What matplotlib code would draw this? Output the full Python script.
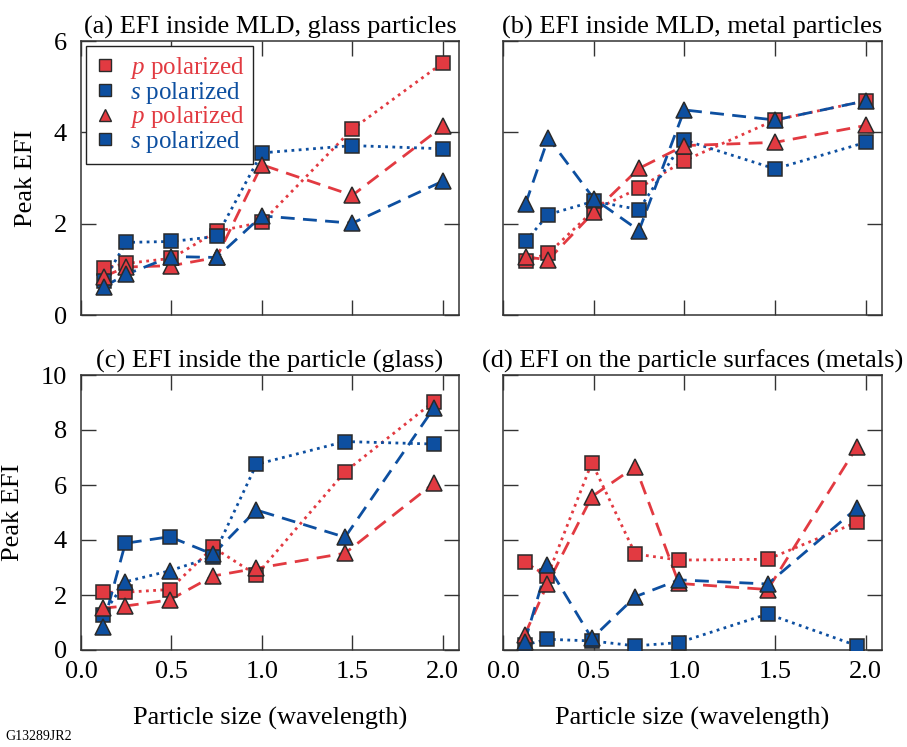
import matplotlib
matplotlib.use('Agg')
import matplotlib.pyplot as plt
from matplotlib.lines import Line2D

plt.rcParams['font.family'] = ['Liberation Serif', 'DejaVu Serif']
plt.rcParams['mathtext.fontset'] = 'custom'
plt.rcParams['mathtext.it'] = 'Liberation Serif:italic'
plt.rcParams['mathtext.rm'] = 'Liberation Serif'

RED = '#e23a41'
BLUE = '#0d4fa0'
EDGE = '#2a2a2a'

# particle sizes (wavelength)
x_ab = [0.125, 0.25, 0.5, 0.75, 1.0, 1.5, 2.0]
x_cd = [0.12, 0.245, 0.49, 0.73, 0.97, 1.46, 1.95]

# (a) EFI inside MLD, glass particles
a_p_dot = [1.02, 1.13, 1.24, 1.83, 2.03, 4.07, 5.52]
a_s_dot = [0.75, 1.59, 1.61, 1.72, 3.55, 3.71, 3.64]
a_p_dash = [0.84, 1.05, 1.08, 1.26, 3.29, 2.62, 4.13]
a_s_dash = [0.62, 0.89, 1.28, 1.26, 2.17, 2.01, 2.93]

# (b) EFI inside MLD, metal particles
b_p_dot = [1.18, 1.35, 2.29, 2.78, 3.38, 4.27, 4.69]
b_s_dot = [1.62, 2.20, 2.49, 2.31, 3.83, 3.20, 3.78]
b_p_dash = [1.27, 1.21, 2.25, 3.21, 3.71, 3.78, 4.15]
b_s_dash = [2.44, 3.88, 2.55, 1.85, 4.49, 4.27, 4.69]

# (c) EFI inside the particle (glass)
c_p_dot = [2.10, 2.10, 2.20, 3.73, 2.73, 6.48, 9.03]
c_s_dot = [1.27, 2.48, 2.88, 3.39, 6.75, 7.58, 7.49]
c_p_dash = [1.52, 1.60, 1.82, 2.69, 2.97, 3.52, 6.06]
c_s_dash = [0.85, 3.88, 4.12, 3.48, 5.09, 4.10, 8.79]

# (d) EFI on the particle surfaces (metals)
d_p_dot = [3.19, 2.69, 6.81, 3.49, 3.27, 3.30, 4.64]
d_s_dot = [0.18, 0.39, 0.33, 0.15, 0.27, 1.31, 0.16]
d_p_dash = [0.55, 2.40, 5.58, 6.67, 2.42, 2.20, 7.37]
d_s_dash = [0.30, 3.09, 0.42, 1.94, 2.55, 2.40, 5.15]

# markers along each line (panel c mixes them on the s curves)
mk_dot = ['s'] * 7
mk_dash = ['^'] * 7
c_mk_s_dot = ['s', '^', '^', 's', 's', 's', 's']
c_mk_s_dash = ['^', 's', 's', '^', '^', '^', '^']

titles = ['(a) EFI inside MLD, glass particles',
          '(b) EFI inside MLD, metal particles',
          '(c) EFI inside the particle (glass)',
          '(d) EFI on the particle surfaces (metals)']

W, H = 907, 747
fig = plt.figure(figsize=(W / 100, H / 100), dpi=100)


def px_axes(left, top, right, bottom):
    return fig.add_axes([left / W, 1 - bottom / H, (right - left) / W, (bottom - top) / H])


axes = [px_axes(81, 41, 459, 315), px_axes(503, 41, 882, 315),
        px_axes(81, 375, 459, 650), px_axes(503, 375, 882, 650)]

panels = [
    (x_ab, [(a_p_dot, RED, ':', mk_dot), (a_s_dot, BLUE, ':', mk_dot),
            (a_p_dash, RED, '--', mk_dash), (a_s_dash, BLUE, '--', mk_dash)]),
    (x_ab, [(b_p_dot, RED, ':', mk_dot), (b_s_dot, BLUE, ':', mk_dot),
            (b_p_dash, RED, '--', mk_dash), (b_s_dash, BLUE, '--', mk_dash)]),
    (x_cd, [(c_p_dot, RED, ':', mk_dot), (c_s_dot, BLUE, ':', c_mk_s_dot),
            (c_p_dash, RED, '--', mk_dash), (c_s_dash, BLUE, '--', c_mk_s_dash)]),
    (x_cd, [(d_p_dot, RED, ':', mk_dot), (d_s_dot, BLUE, ':', mk_dot),
            (d_p_dash, RED, '--', mk_dash), (d_s_dash, BLUE, '--', mk_dash)]),
]

for i, (ax, (xs, series)) in enumerate(zip(axes, panels)):
    # lines first, then markers on top
    for ys, col, ls, mks in series:
        if ls == ':':
            ax.plot(xs, ys, color=col, ls=(0, (1, 1.6)), lw=2.0, zorder=2)
        else:
            ax.plot(xs, ys, color=col, ls=(0, (5, 3)), lw=2.0, zorder=2)
    for ys, col, ls, mks in series:
        for xv, yv, m in zip(xs, ys, mks):
            ax.plot([xv], [yv], marker=m, ms=11.5 if m == '^' else 10.5,
                    mfc=col, mec=EDGE, mew=1.1, ls='none', zorder=3)

    ax.set_xlim(0, 2.09)
    ax.set_xticks([0.0, 0.5, 1.0, 1.5, 2.0])
    if i < 2:
        ax.set_ylim(0, 6)
        ax.set_yticks([0, 2, 4, 6])
        ax.tick_params(labelbottom=False)
    else:
        ax.set_ylim(0, 10)
        ax.set_yticks([0, 2, 4, 6, 8, 10])
        ax.set_xticklabels(['0.0', '0.5', '1.0', '1.5', '2.0'])
        ax.set_xlabel('Particle size (wavelength)', fontsize=19, labelpad=17)
    if i % 2 == 0:
        ax.set_ylabel('Peak EFI', fontsize=19, labelpad=12)
    else:
        ax.tick_params(labelleft=False)
    ax.tick_params(direction='in', length=11, width=1, top=True, right=True,
                   labelsize=19, color='#333333')
    ax.tick_params(axis='x', pad=8)
    ax.tick_params(axis='y', pad=10)
    for sp in ax.spines.values():
        sp.set_color('#333333')
        sp.set_linewidth(1.1)
    ax.set_title(titles[i], fontsize=19, pad=5)

# legend in panel (a): the last entry shows a square in the original
handles = [
    Line2D([], [], marker='s', ms=8, mfc=RED, mec=EDGE, mew=1.0, ls='none'),
    Line2D([], [], marker='s', ms=8, mfc=BLUE, mec=EDGE, mew=1.0, ls='none'),
    Line2D([], [], marker='^', ms=9, mfc=RED, mec=EDGE, mew=1.0, ls='none'),
    Line2D([], [], marker='s', ms=8, mfc=BLUE, mec=EDGE, mew=1.0, ls='none'),
]
labels = ['$p$ polarized', '$s$ polarized', '$p$ polarized', '$s$ polarized']
leg = axes[0].legend(handles, labels, loc='upper left', fontsize=18, frameon=True,
                     fancybox=False, edgecolor='#222222', framealpha=1,
                     handlelength=0.8, handletextpad=0.6, borderpad=0.35,
                     labelspacing=-0.05, borderaxespad=0.2)
leg.get_frame().set_linewidth(1.0)
for txt, col in zip(leg.get_texts(), [RED, BLUE, RED, BLUE]):
    txt.set_color(col)

fig.text(5 / W, 1 - 736 / H, 'G13289JR2', fontsize=10, va='center', ha='left')

fig.savefig('out.png', dpi=100)
